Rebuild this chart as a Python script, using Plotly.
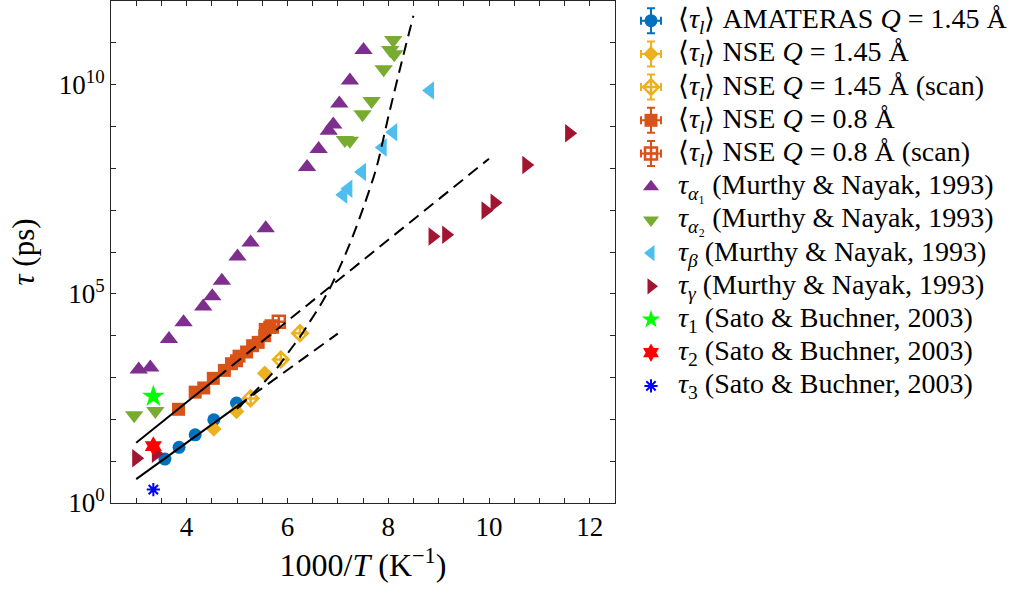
import numpy as np
import plotly.graph_objects as go

# ---- data: x = 1000/T (K^-1), values are log10(tau / ps) ----
amateras_x = [3.57, 3.85, 4.17, 4.54, 4.99]
amateras_logtau = [1.05, 1.33, 1.63, 1.99, 2.39]

nse145_x = [4.54, 4.99, 5.55]
nse145_logtau = [1.77, 2.19, 3.10]

nse145_scan_x = [5.27, 5.87, 6.25]
nse145_scan_logtau = [2.50, 3.43, 4.06]

nse08_x = [3.84, 4.17, 4.34, 4.53, 4.75, 4.89, 4.99, 5.04, 5.19, 5.31, 5.42, 5.55, 5.56, 5.65]
nse08_logtau = [2.24, 2.65, 2.75, 2.98, 3.17, 3.33, 3.40, 3.51, 3.61, 3.76, 3.84, 4.00, 4.15, 4.20]

nse08_scan_x = [5.69, 5.83]
nse08_scan_logtau = [4.22, 4.33]

alpha1_x = [3.05, 3.28, 3.65, 3.94, 4.33, 4.51, 4.70, 5.01, 5.27, 5.57,
            6.39, 6.62, 6.82, 6.91, 7.03, 7.24, 7.51]
alpha1_logtau = [3.19, 3.24, 3.92, 4.32, 4.70, 4.94, 5.31, 5.89, 6.23, 6.57,
                 8.03, 8.46, 8.90, 9.05, 9.55, 10.10, 10.83]

alpha2_x = [2.96, 3.38, 7.14, 7.24, 7.49, 7.67, 7.91, 8.04, 8.12, 8.10]
alpha2_logtau = [2.10, 2.20, 8.68, 8.66, 9.29, 9.61, 10.37, 10.83, 10.73, 11.07]

beta_x = [7.11, 7.21, 7.48, 7.89, 8.10, 8.83]
beta_logtau = [7.37, 7.51, 7.91, 8.50, 8.86, 9.86]

gamma_x = [3.00, 3.39, 8.88, 9.15, 9.93, 10.11, 10.74, 11.59]
gamma_logtau = [1.07, 1.18, 6.37, 6.41, 6.99, 7.18, 8.08, 8.84]

tau1_x, tau1_logtau = [3.34], [2.55]
tau2_x, tau2_logtau = [3.34], [1.36]
tau3_x, tau3_logtau = [3.34], [0.32]

# Arrhenius fits (solid over the fitted range, dashed extrapolation)
fit_low_solid_x, fit_low_solid_logtau = [3.0, 5.0], [0.57, 2.31]
fit_low_dash_x, fit_low_dash_logtau = [5.0, 7.0], [2.31, 4.05]
fit_high_solid_x, fit_high_solid_logtau = [3.0, 4.6], [1.44, 2.99]
fit_high_dash_x, fit_high_dash_logtau = [4.6, 10.0], [2.99, 8.23]
# VFT-type curve
vft_x = [5.00, 5.32, 5.58, 5.81, 6.05, 6.25, 6.41, 6.65, 6.88, 7.24, 7.51, 7.77, 8.00, 8.24, 8.50]
vft_logtau = [2.25, 2.62, 2.94, 3.25, 3.65, 3.97, 4.27, 4.72, 5.22, 6.20, 7.07, 8.03, 9.22, 10.41, 11.65]

x_tick_labels = [4, 6, 8, 10, 12]
x_minor_step = 0.5
y_tick_exponents = list(range(13))
y_labelled_exponents = [0, 5, 10]

legend_labels = [
    "⟨<i>τ</i><sub><i>l</i></sub>⟩ AMATERAS <i>Q</i> = 1.45 Å",
    "⟨<i>τ</i><sub><i>l</i></sub>⟩ NSE <i>Q</i> = 1.45 Å",
    "⟨<i>τ</i><sub><i>l</i></sub>⟩ NSE <i>Q</i> = 1.45 Å (scan)",
    "⟨<i>τ</i><sub><i>l</i></sub>⟩ NSE <i>Q</i> = 0.8 Å",
    "⟨<i>τ</i><sub><i>l</i></sub>⟩ NSE <i>Q</i> = 0.8 Å (scan)",
    "<i>τ</i><sub><i>α</i>₁</sub> (Murthy &amp; Nayak, 1993)",
    "<i>τ</i><sub><i>α</i>₂</sub> (Murthy &amp; Nayak, 1993)",
    "<i>τ</i><sub><i>β</i></sub> (Murthy &amp; Nayak, 1993)",
    "<i>τ</i><sub><i>γ</i></sub> (Murthy &amp; Nayak, 1993)",
    "<i>τ</i><sub>1</sub> (Sato &amp; Buchner, 2003)",
    "<i>τ</i><sub>2</sub> (Sato &amp; Buchner, 2003)",
    "<i>τ</i><sub>3</sub> (Sato &amp; Buchner, 2003)",
]
# series drawn with error bars in the key
has_errorbars = [True, True, True, True, True] + [False] * 7

FONT = "Liberation Serif"
AX = "#262626"

series = [
    (amateras_x, amateras_logtau, dict(symbol="circle", size=13, color="#0072BD")),
    (nse145_x, nse145_logtau, dict(symbol="diamond", size=12, color="#EDB120")),
    (nse145_scan_x, nse145_scan_logtau,
     dict(symbol="diamond-cross-open", size=12, color="#EDB120", line=dict(width=2.5, color="#EDB120"))),
    (nse08_x, nse08_logtau, dict(symbol="square", size=13, color="#D95319")),
    (nse08_scan_x, nse08_scan_logtau,
     dict(symbol="square-cross-open", size=12, color="#D95319", line=dict(width=2.5, color="#D95319"))),
    (alpha1_x, alpha1_logtau, dict(symbol="triangle-up", size=16, color="#7E2F8E")),
    (alpha2_x, alpha2_logtau, dict(symbol="triangle-down", size=16, color="#77AC30")),
    (beta_x, beta_logtau, dict(symbol="triangle-left", size=16, color="#4DBEEE")),
    (gamma_x, gamma_logtau, dict(symbol="triangle-right", size=16, color="#A2142F")),
    (tau1_x, tau1_logtau, dict(symbol="star", size=17, color="#00FF00")),
    (tau2_x, tau2_logtau, dict(symbol="hexagram", size=15, color="#FF0000")),
    (tau3_x, tau3_logtau,
     dict(symbol="asterisk-open", size=11, color="#0000FF", line=dict(width=2, color="#0000FF"))),
]

# ---- geometry (pixels) ----
W, H = 1029, 595
L, R, T, B = 111, 5, 1, 92
paper_w = W - L - R
plot_w = 504                      # width of the data axes
key_x_px, key_text_px = 651, 676  # key symbol centre / key text start
row0, row_step = 20.7, 33.2       # key rows
plot_top, plot_bottom = T, H - B

fig = go.Figure()
for (xs, lt, mk) in series:
    mk = dict(mk)
    mk.setdefault("line", dict(width=0))
    fig.add_trace(go.Scatter(x=xs, y=np.power(10.0, lt), mode="markers", marker=mk,
                             showlegend=False, xaxis="x", yaxis="y"))

DASH = "12px,7px"
line_sets = [
    (fit_low_solid_x, fit_low_solid_logtau, "solid", "linear"),
    (fit_low_dash_x, fit_low_dash_logtau, DASH, "linear"),
    (fit_high_solid_x, fit_high_solid_logtau, "solid", "linear"),
    (fit_high_dash_x, fit_high_dash_logtau, DASH, "linear"),
    (vft_x, vft_logtau, DASH, "spline"),
]
for xs, lt, dash, shape in line_sets:
    fig.add_trace(go.Scatter(x=xs, y=np.power(10.0, lt), mode="lines",
                             line=dict(color="black", width=2, dash=dash, shape=shape, smoothing=0.8),
                             showlegend=False, hoverinfo="skip", xaxis="x", yaxis="y"))

# ---- key: one row per series on a hidden helper axis (row index on y) ----
key_half_w = 20  # px half-width of key symbol column
for i, ((xs, lt, mk), label, eb) in enumerate(zip(series, legend_labels, has_errorbars)):
    mk = dict(mk)
    mk.setdefault("line", dict(width=0))
    mk["size"] = min(mk["size"], 14)
    kw = {}
    if eb:
        kw["error_x"] = dict(type="constant", value=10 / key_half_w, width=4, thickness=2, color=mk["color"])
        kw["error_y"] = dict(type="constant", value=12.5 / row_step, width=4, thickness=2, color=mk["color"])
    fig.add_trace(go.Scatter(x=[0], y=[i], mode="markers", marker=mk, showlegend=False,
                             hoverinfo="skip", xaxis="x2", yaxis="y2", **kw))
    fig.add_annotation(x=(key_text_px - L) / paper_w, xref="paper", y=i, yref="y2",
                       text=label, showarrow=False, xanchor="left", yanchor="middle",
                       font=dict(family=FONT, size=28, color="black"))

key_range_top = (plot_top - row0) / row_step
key_range_bottom = (plot_bottom - row0) / row_step

fig.update_layout(
    width=W, height=H,
    margin=dict(l=L, r=R, t=T, b=B, autoexpand=False),
    paper_bgcolor="white", plot_bgcolor="white",
    font=dict(family=FONT, color="black"),
    showlegend=False,
    xaxis=dict(domain=[0, plot_w / paper_w], anchor="y",
               range=[2.5, 12.5], tickmode="array", tickvals=x_tick_labels,
               ticktext=[str(v) for v in x_tick_labels],
               ticks="inside", ticklen=5, tickcolor=AX, showline=True, linecolor=AX, linewidth=1,
               minor=dict(dtick=x_minor_step, tick0=2.5, ticks="inside", ticklen=5, tickcolor=AX),
               mirror="ticks", showgrid=False, zeroline=False,
               tickfont=dict(family=FONT, size=27, color="black"),
               title=dict(text="1000/<i>T</i> (K<sup>−1</sup>)", font=dict(family=FONT, size=32, color="black"),
                          standoff=12),
               automargin=False),
    yaxis=dict(domain=[0, 1], anchor="x", type="log", range=[0, 12], tickmode="array",
               tickvals=[10.0 ** k for k in y_labelled_exponents],
               ticktext=["10<sup>%d</sup>" % k for k in y_labelled_exponents],
               minor=dict(tickvals=[10.0 ** k for k in y_tick_exponents], ticks="inside", ticklen=5,
                          tickcolor=AX),
               ticks="inside", ticklen=5, tickcolor=AX, showline=True, linecolor=AX, linewidth=1,
               mirror="ticks", showgrid=False, zeroline=False,
               tickfont=dict(family=FONT, size=27, color="black"),
               title=dict(text="<i>τ</i> (ps)", font=dict(family=FONT, size=31, color="black"), standoff=14),
               automargin=False),
    xaxis2=dict(domain=[(key_x_px - key_half_w - L) / paper_w, (key_x_px + key_half_w - L) / paper_w],
                anchor="y2", range=[-1, 1], visible=False, fixedrange=True),
    yaxis2=dict(domain=[0, 1], anchor="x2", range=[key_range_bottom, key_range_top],
                visible=False, fixedrange=True),
)

fig.write_html("out.html")
